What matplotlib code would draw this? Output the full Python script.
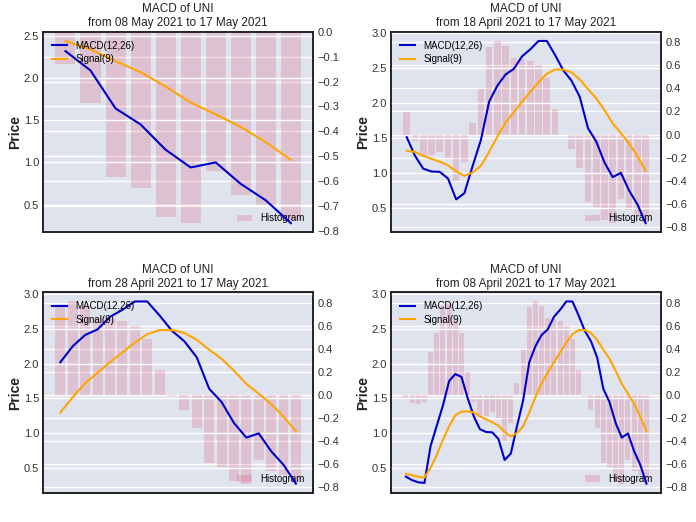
import numpy as np
import pandas as pd
import matplotlib
matplotlib.use('Agg')
import matplotlib.pyplot as plt

plt.rcParams['font.family'] = ['Liberation Sans', 'DejaVu Sans']

# daily values, 08 April 2021 .. 17 May 2021
dates = pd.date_range('2021-04-08', '2021-05-17', freq='D')

macd = [0.38, 0.33, 0.30, 0.29, 0.82, 1.11, 1.40, 1.75, 1.85, 1.81,
        1.51, 1.245, 1.06, 1.02, 1.015, 0.92, 0.62, 0.71, 1.10, 1.47,
        2.02, 2.25, 2.41, 2.49, 2.67, 2.77, 2.89, 2.89, 2.69, 2.47,
        2.32, 2.09, 1.64, 1.45, 1.15, 0.94, 1.00, 0.745, 0.55, 0.28]

signal = [0.42, 0.40, 0.38, 0.365, 0.51, 0.69, 0.91, 1.10, 1.26, 1.31,
          1.317, 1.30, 1.245, 1.20, 1.16, 1.11, 1.02, 0.957, 1.005, 1.10,
          1.30, 1.52, 1.72, 1.87, 2.02, 2.16, 2.30, 2.42, 2.48, 2.48,
          2.44, 2.34, 2.20, 2.07, 1.90, 1.71, 1.57, 1.42, 1.24, 1.03]

hist = [-0.037, -0.066, -0.075, -0.06, 0.37, 0.54, 0.77, 0.80, 0.67, 0.54,
        0.198, -0.06, -0.19, -0.18, -0.15, -0.20, -0.40, -0.24, 0.10, 0.39,
        0.76, 0.81, 0.77, 0.665, 0.655, 0.637, 0.60, 0.485, 0.218, -0.005,
        -0.129, -0.287, -0.585, -0.627, -0.743, -0.767, -0.559, -0.656, -0.696, -0.756]

# window length (days) of each panel: top-left, top-right, bottom-left, bottom-right
windows = [10, 30, 20, 40]

bg = '#dfe3ee'

fig, axes = plt.subplots(2, 2, figsize=(6.96, 5.22), dpi=100)
fig.subplots_adjust(left=0.062, right=0.95, top=0.939, bottom=0.056,
                    wspace=0.289, hspace=0.3)

for ax, n in zip(axes.flat, windows):
    d = dates[-n:]
    ax2 = ax.twinx()
    # lines above the histogram, background from the twin axis
    ax.set_zorder(ax2.get_zorder() + 1)
    ax.patch.set_visible(False)
    ax2.patch.set_visible(True)
    ax2.set_facecolor(bg)

    ax2.bar(d, hist[-n:], width=0.8, color='crimson', alpha=0.16, label='Histogram')
    ax.plot(d, macd[-n:], color='mediumblue', lw=1.5, label='MACD(12,26)')
    ax.plot(d, signal[-n:], color='orange', lw=1.5, label='Signal(9)')

    for a in (ax, ax2):
        a.grid(True, axis='y', color='white', lw=1)
        a.grid(False, axis='x')
        a.tick_params(length=0, labelsize=8, colors='#333333', pad=3)
        a.set_xticks([])
        for s in a.spines.values():
            s.set_color('#222222')
            s.set_linewidth(1.2)
    ax2.set_axisbelow(True)

    ax.set_ylabel('Price', fontsize=10, fontweight='bold', color='#222222', labelpad=1)
    ax.set_title(f"MACD of UNI\nfrom {d[0]:%d %B %Y} to {d[-1]:%d %B %Y}",
                 fontsize=8.5, color='#222222', pad=4, linespacing=1.2)
    ax.legend(loc='upper left', frameon=False, fontsize=7, handlelength=1.6,
              labelspacing=0.35, borderaxespad=0.5)
    ax2.legend(loc='lower right', frameon=False, fontsize=7, handlelength=1.6)

fig.savefig('out.png')
